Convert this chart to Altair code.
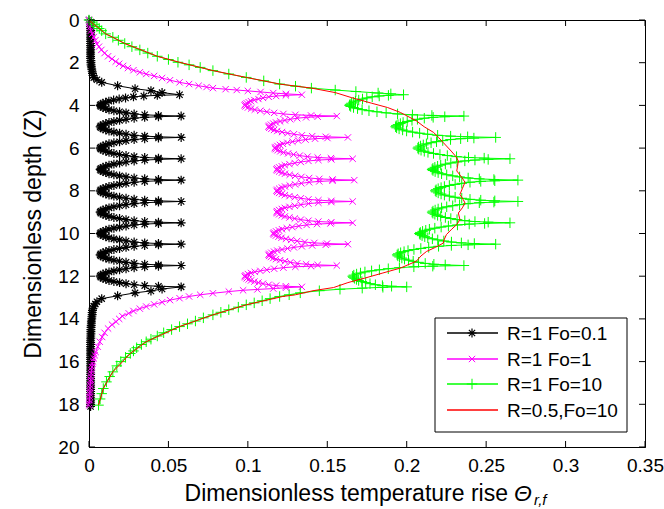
import altair as alt
import pandas as pd

FONT = "Liberation Sans"
W, H = 556, 427

# ---------------- data ----------------
spike_z = [3.5, 4.5, 5.5, 6.5, 7.5, 8.5, 9.5, 10.5, 11.5, 12.5]
# shape of the zig-zag between two spikes (distance from spike, fraction of amplitude)
seg_d = [0.03, 0.06, 0.1, 0.15, 0.2, 0.25, 0.3, 0.35, 0.4, 0.45]
seg_f = [0.72, 0.55, 0.42, 0.32, 0.24, 0.17, 0.11, 0.07, 0.035, 0.01]

# R=1 Fo=0.1 (black)
black_top_z = [0.0, 0.1, 0.2, 0.3, 0.4, 0.5, 0.6, 0.7, 0.8, 0.9, 1.0, 1.1, 1.2, 1.3, 1.4, 1.5,
               1.6, 1.7, 1.8, 1.9, 2.0, 2.1, 2.2, 2.3, 2.4, 2.5, 2.6, 2.7, 2.8, 2.92, 3.08,
               3.22, 3.31, 3.4]
black_top_x = [0.0, 0.001, 0.001, 0.001, 0.001, 0.001, 0.001, 0.001, 0.001, 0.001, 0.001, 0.001,
               0.001, 0.001, 0.001, 0.001, 0.001, 0.001, 0.001, 0.0012, 0.0012, 0.0013, 0.0015,
               0.0017, 0.002, 0.0022, 0.0025, 0.003, 0.005, 0.008, 0.018, 0.029, 0.039, 0.046]
black_peaks = [0.057, 0.058, 0.058, 0.058, 0.058, 0.058, 0.058, 0.058, 0.058, 0.058]
black_tips = [0.007, 0.007, 0.007, 0.007, 0.007, 0.007, 0.007, 0.007, 0.007]
black_bot_z = [12.6, 12.69, 12.78, 12.92, 13.05, 13.2, 13.3, 13.4, 13.5, 13.6, 13.7, 13.8, 13.9,
               14.0, 14.1, 14.2, 14.3, 14.4, 14.5, 14.6, 14.7, 14.8, 14.9, 15.0, 15.1, 15.2,
               15.3, 15.4, 15.5, 15.6, 15.7, 15.8, 15.9, 16.0, 16.1, 16.2, 16.3, 16.4, 16.5,
               16.6, 16.7, 16.8, 16.9, 17.0, 17.1, 17.2, 17.3, 17.4, 17.5, 17.6, 17.7, 17.8,
               17.9, 18.0, 18.1]
black_bot_x = [0.046, 0.039, 0.029, 0.018, 0.008, 0.005, 0.004, 0.003, 0.0025, 0.0022, 0.002,
               0.002, 0.0018, 0.0017, 0.0015, 0.0015, 0.0014, 0.0013, 0.0012, 0.0012, 0.0012,
               0.0011, 0.0011, 0.001, 0.001, 0.001, 0.001, 0.001, 0.001, 0.001, 0.001, 0.001,
               0.001, 0.001, 0.001, 0.001, 0.001, 0.001, 0.001, 0.001, 0.001, 0.001, 0.001,
               0.001, 0.001, 0.001, 0.001, 0.001, 0.001, 0.001, 0.001, 0.001, 0.001, 0.001,
               0.001]

# R=1 Fo=1 (magenta)
mag_top_z = [0.0, 0.1, 0.2, 0.34, 0.5, 0.65, 0.8, 0.95, 1.12, 1.25, 1.4, 1.55, 1.7, 1.82, 1.95,
             2.05, 2.15, 2.25, 2.35, 2.45, 2.53, 2.62, 2.72, 2.82, 2.92, 3.0, 3.08, 3.14, 3.19,
             3.24, 3.28, 3.32, 3.37, 3.42, 3.46]
mag_top_x = [0.0, 0.0002, 0.0004, 0.0006, 0.0012, 0.002, 0.003, 0.004, 0.005, 0.0063, 0.0078,
             0.0098, 0.012, 0.0145, 0.0168, 0.019, 0.0215, 0.0245, 0.028, 0.032, 0.036, 0.041,
             0.046, 0.051, 0.057, 0.063, 0.069, 0.074, 0.078, 0.086, 0.093, 0.1, 0.108, 0.116,
             0.124]
mag_peaks = [0.134, 0.156, 0.163, 0.166, 0.167, 0.166, 0.166, 0.163, 0.156, 0.134]
mag_tips = [0.098, 0.113, 0.117, 0.118, 0.118, 0.118, 0.116, 0.113, 0.098]
mag_bot_z = [12.54, 12.58, 12.62, 12.66, 12.72, 12.8, 12.87, 12.95, 13.03, 13.12, 13.22, 13.32,
             13.42, 13.52, 13.63, 13.74, 13.87, 14.0, 14.13, 14.27, 14.45, 14.65, 14.85, 15.07,
             15.3, 15.55, 15.7, 15.85, 16.0, 16.1, 16.25, 16.4, 16.55, 16.7, 16.85, 16.95,
             17.1, 17.25, 17.4, 17.5, 17.65, 17.8, 17.95, 18.05]
mag_bot_x = [0.124, 0.116, 0.106, 0.097, 0.088, 0.078, 0.07, 0.063, 0.057, 0.051, 0.046, 0.041,
             0.036, 0.032, 0.028, 0.025, 0.021, 0.019, 0.017, 0.0145, 0.012, 0.0098, 0.0083,
             0.0068, 0.0055, 0.0042, 0.0036, 0.003, 0.0026, 0.0022, 0.0019, 0.0016, 0.0014,
             0.0012, 0.0011, 0.001, 0.0008, 0.0007, 0.0006, 0.0005, 0.0004, 0.0003, 0.0002, 0.0]

# R=1 Fo=10 (green)
grn_top_z = [0.0, 0.1, 0.2, 0.3, 0.4, 0.5, 0.65, 0.81, 0.95, 1.1, 1.25, 1.4, 1.55, 1.7, 1.85,
             1.98, 2.1, 2.22, 2.37, 2.53, 2.69, 2.85, 3.0, 3.1, 3.19, 3.28, 3.35, 3.42, 3.46]
grn_top_x = [0.0, 0.0015, 0.003, 0.005, 0.0065, 0.008, 0.0105, 0.015, 0.0185, 0.0225, 0.027,
             0.032, 0.037, 0.043, 0.05, 0.056, 0.063, 0.07, 0.078, 0.088, 0.099, 0.11, 0.12,
             0.13, 0.14, 0.155, 0.168, 0.182, 0.19]
grn_peaks = [0.198, 0.236, 0.256, 0.265, 0.27, 0.27, 0.265, 0.256, 0.236, 0.2]
grn_tips = [0.164, 0.193, 0.207, 0.216, 0.218, 0.216, 0.208, 0.194, 0.166]
grn_bot_z = [12.52, 12.56, 12.61, 12.68, 12.78, 12.87, 12.95, 13.05, 13.15, 13.25, 13.34, 13.45,
             13.57, 13.69, 13.81, 13.95, 14.1, 14.23, 14.36, 14.5, 14.65, 14.8, 14.95, 15.07,
             15.2, 15.35, 15.5, 15.62, 15.8, 16.0, 16.2, 16.48, 16.7, 16.95, 17.26, 17.5,
             17.75, 18.04]
grn_bot_x = [0.185, 0.172, 0.158, 0.145, 0.133, 0.126, 0.12, 0.114, 0.109, 0.104, 0.099, 0.094,
             0.088, 0.083, 0.078, 0.072, 0.067, 0.062, 0.057, 0.052, 0.047, 0.043, 0.039, 0.036,
             0.033, 0.03, 0.028, 0.026, 0.023, 0.02, 0.0175, 0.015, 0.013, 0.011, 0.009, 0.008,
             0.007, 0.006]

# R=0.5, Fo=10 (red)
red_z = [0.0, 0.2, 0.4, 0.65, 0.81, 1.1, 1.43, 1.7, 1.98, 2.22, 2.37, 2.69, 3.0, 3.19, 3.4,
         3.63, 3.9, 4.1, 4.33, 4.72, 5.0, 5.27, 5.5, 5.74, 6.14, 6.4, 6.6, 6.85, 7.07, 7.3, 7.6,
         7.9, 8.17, 8.4, 8.57, 8.8, 9.04, 9.35, 9.58, 9.8, 10.05, 10.3, 10.45, 10.65, 10.84,
         11.05, 11.3, 11.62, 11.85, 12.06, 12.3, 12.53, 12.68, 12.87, 12.95, 13.34, 13.81,
         14.36, 15.07, 15.62, 16.48, 17.26, 18.04]
red_x = [0.0, 0.003, 0.0065, 0.0105, 0.015, 0.0225, 0.034, 0.043, 0.057, 0.07, 0.078, 0.099,
         0.12, 0.14, 0.155, 0.165, 0.178, 0.188, 0.196, 0.206, 0.211, 0.217, 0.22, 0.223, 0.228,
         0.231, 0.2325, 0.232, 0.2315, 0.234, 0.2367, 0.235, 0.2335, 0.2355, 0.2367, 0.235,
         0.2325, 0.2335, 0.2315, 0.2283, 0.225, 0.2235, 0.223, 0.218, 0.2125, 0.209, 0.206,
         0.196, 0.185, 0.175, 0.163, 0.154, 0.141, 0.13, 0.122, 0.099, 0.078, 0.057, 0.036,
         0.026, 0.015, 0.009, 0.006]

x_ticks = [0, 0.05, 0.1, 0.15, 0.2, 0.25, 0.3, 0.35]
y_ticks = [0, 2, 4, 6, 8, 10, 12, 14, 16, 18, 20]

names = ["R=1 Fo=0.1", "R=1 Fo=1", "R=1 Fo=10", "R=0.5,Fo=10"]
colors = ["#000000", "#ff00ff", "#00ff00", "#ff0000"]


def build(top_z, top_x, peaks, tips, bot_z, bot_x):
    z = list(top_z)
    x = list(top_x)
    n = len(spike_z)
    for i, c in enumerate(spike_z):
        z.append(c)
        x.append(peaks[i])
        if i < n - 1:
            for d, f in zip(seg_d, seg_f):
                z.append(c + d)
                x.append(tips[i] + f * (peaks[i] - tips[i]))
            z.append(c + 0.5)
            x.append(tips[i])
            for d, f in zip(reversed(seg_d), reversed(seg_f)):
                z.append(c + 1 - d)
                x.append(tips[i] + f * (peaks[i + 1] - tips[i]))
    z += list(bot_z)
    x += list(bot_x)
    return z, x


series = [
    build(black_top_z, black_top_x, black_peaks, black_tips, black_bot_z, black_bot_x),
    build(mag_top_z, mag_top_x, mag_peaks, mag_tips, mag_bot_z, mag_bot_x),
    build(grn_top_z, grn_top_x, grn_peaks, grn_tips, grn_bot_z, grn_bot_x),
    (red_z, red_x),
]

rows = []
for name, (zs, xs_) in zip(names, series):
    for k, (zz, xx) in enumerate(zip(zs, xs_)):
        rows.append({"s": name, "z": zz, "x": xx, "i": k})
df = pd.DataFrame(rows)

xs = alt.Scale(domain=[0, 0.35], nice=False, zero=False)
ys = alt.Scale(domain=[0, 20], reverse=True, nice=False, zero=False)

star = "M-1,0L1,0M0,-1L0,1M-0.7,-0.7L0.7,0.7M-0.7,0.7L0.7,-0.7"
cross_x = "M-1,-1L1,1M-1,1L1,-1"
plus = "M-1,0L1,0M0,-1L0,1"
markers = [(star, 80, 1.2), (cross_x, 40, 1), (plus, 110, 1), (None, 0, 1)]

base = alt.Chart(df)
X = alt.X("x:Q", scale=xs,
          axis=alt.Axis(values=x_ticks, format="~g", ticks=False, grid=False,
                        labelFontSize=19, labelFont=FONT, labelPadding=9,
                        labelColor="black", domainColor="black", title=None,
                        labelFlush=False))
Y = alt.Y("z:Q", scale=ys,
          axis=alt.Axis(values=y_ticks, format="d", ticks=False, grid=False,
                        labelFontSize=19, labelFont=FONT, labelPadding=10,
                        labelColor="black", domainColor="black",
                        title="Dimensionless depth (Z)", titleFontSize=23,
                        titleFont=FONT, titleFontWeight="normal", titleColor="black",
                        titlePadding=12, labelFlush=False))

layers = []
for name, col, (shape, size, sw) in zip(names, colors, markers):
    sub = base.transform_filter(alt.datum.s == name)
    layers.append(sub.mark_line(color=col, strokeWidth=1).encode(x=X, y=Y, order="i:Q"))
    if shape:
        layers.append(sub.mark_point(shape=shape, size=size, filled=False, color=col,
                                     strokeWidth=sw, opacity=1).encode(x=X, y=Y))

# inward ticks on all four sides
xt = alt.Chart(pd.DataFrame({"t": x_ticks}))
yt = alt.Chart(pd.DataFrame({"t": y_ticks}))
tick_layers = [
    xt.mark_rule(color="black").encode(x=alt.X("t:Q", scale=xs), y=alt.value(H), y2=alt.value(H - 6)),
    xt.mark_rule(color="black").encode(x=alt.X("t:Q", scale=xs), y=alt.value(0), y2=alt.value(6)),
    yt.mark_rule(color="black").encode(y=alt.Y("t:Q", scale=ys), x=alt.value(0), x2=alt.value(6)),
    yt.mark_rule(color="black").encode(y=alt.Y("t:Q", scale=ys), x=alt.value(W - 6), x2=alt.value(W)),
]

# legend
one = alt.Chart(pd.DataFrame({"a": [0]}))
leg = [one.mark_rect(fill="white", stroke="black", strokeWidth=1).encode(
    x=alt.value(346), x2=alt.value(538), y=alt.value(298), y2=alt.value(412))]
leg_y = [313, 339, 364, 390]
for name, col, (shape, size, sw), ly in zip(names, colors, markers, leg_y):
    leg.append(one.mark_rule(color=col, strokeWidth=1.3).encode(
        x=alt.value(358), x2=alt.value(409), y=alt.value(ly)))
    if shape:
        leg.append(one.mark_point(shape=shape, size=size, filled=False, color=col,
                                  strokeWidth=sw, opacity=1).encode(x=alt.value(383), y=alt.value(ly)))
    leg.append(alt.Chart(pd.DataFrame({"t": [name]})).mark_text(
        align="left", baseline="middle", fontSize=19, font=FONT, color="black").encode(
        x=alt.value(418), y=alt.value(ly + 1), text="t:N"))

# x-axis title with italic Theta and subscript
xtitle = [
    alt.Chart(pd.DataFrame({"t": ["Dimensionless temperature rise"]})).mark_text(
        align="right", baseline="middle", fontSize=23, font=FONT, color="black").encode(
        x=alt.value(419), y=alt.value(474), text="t:N"),
    alt.Chart(pd.DataFrame({"t": ["Θ"]})).mark_text(
        align="left", baseline="middle", fontSize=23, font=FONT, fontStyle="italic",
        color="black").encode(x=alt.value(425), y=alt.value(474), text="t:N"),
    alt.Chart(pd.DataFrame({"t": ["r,f"]})).mark_text(
        align="left", baseline="middle", fontSize=15, font=FONT, fontStyle="italic",
        color="black").encode(x=alt.value(445), y=alt.value(480), text="t:N"),
]

chart = alt.layer(*layers, *tick_layers, *leg, *xtitle).properties(
    width=W, height=H, autosize="none",
    padding={"left": 89, "top": 20, "right": 19, "bottom": 62},
    background="white",
).configure_view(stroke="black", strokeWidth=1)

chart.save("out.html", embed_options={"renderer": "svg", "actions": False})
